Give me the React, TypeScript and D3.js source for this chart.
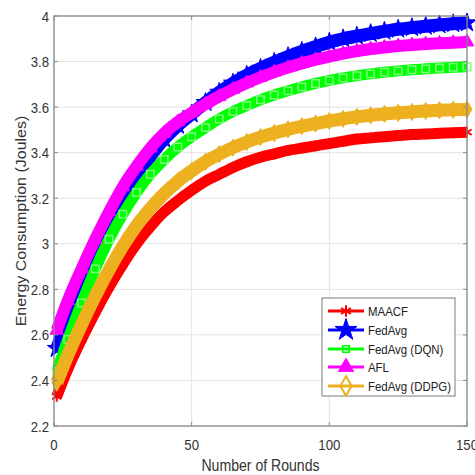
import React from 'react';
import * as d3 from 'd3';

const rounds = [1, 5, 10, 15, 20, 25, 30, 35, 40, 45, 50, 55, 60, 65, 70, 75, 80, 85, 90, 95, 100, 105, 110, 115, 120, 125, 130, 135, 140, 145, 150];

const maacf = [2.33, 2.45, 2.58, 2.70, 2.81, 2.91, 3.00, 3.075, 3.14, 3.19, 3.235, 3.275, 3.305, 3.335, 3.36, 3.38, 3.395, 3.41, 3.42, 3.43, 3.44, 3.45, 3.46, 3.465, 3.47, 3.475, 3.48, 3.482, 3.485, 3.487, 3.49];
const fedavg = [2.54, 2.67, 2.82, 2.96, 3.09, 3.20, 3.30, 3.385, 3.46, 3.52, 3.57, 3.62, 3.665, 3.705, 3.74, 3.77, 3.797, 3.822, 3.845, 3.865, 3.885, 3.90, 3.912, 3.923, 3.933, 3.942, 3.949, 3.955, 3.961, 3.966, 3.97];
const fedavgDqn = [2.44, 2.58, 2.74, 2.89, 3.02, 3.13, 3.225, 3.305, 3.37, 3.425, 3.47, 3.51, 3.548, 3.58, 3.607, 3.632, 3.653, 3.672, 3.689, 3.704, 3.717, 3.728, 3.738, 3.746, 3.753, 3.759, 3.764, 3.768, 3.772, 3.775, 3.777];
const afl = [2.62, 2.75, 2.89, 3.02, 3.14, 3.25, 3.34, 3.42, 3.485, 3.535, 3.575, 3.613, 3.647, 3.678, 3.706, 3.731, 3.754, 3.774, 3.792, 3.808, 3.822, 3.835, 3.846, 3.855, 3.862, 3.868, 3.873, 3.877, 3.88, 3.883, 3.886];
const fedavgDdpg = [2.39, 2.51, 2.645, 2.77, 2.885, 2.99, 3.08, 3.155, 3.22, 3.275, 3.32, 3.36, 3.393, 3.422, 3.447, 3.468, 3.486, 3.502, 3.516, 3.528, 3.539, 3.549, 3.557, 3.564, 3.57, 3.575, 3.579, 3.583, 3.586, 3.588, 3.59];

const seriesNames = ['MAACF', 'FedAvg', 'FedAvg (DQN)', 'AFL', 'FedAvg (DDPG)'];
const seriesValues = [maacf, fedavg, fedavgDqn, afl, fedavgDdpg];
const seriesColors = ['#ff0000', '#0000ff', '#00ff00', '#ff00ff', '#EDB120'];

const xTicks = [0, 50, 100, 150];
const yTicks = [2.2, 2.4, 2.6, 2.8, 3, 3.2, 3.4, 3.6, 3.8, 4];

const markerDefs = [
  { type: d3.symbolAsterisk, size: 80, filled: false, sw: 2, lw: 11, legSize: 90 },
  { type: d3.symbolStar, size: 110, filled: true, sw: 1, lw: 13, legSize: 150 },
  { type: d3.symbolSquare, size: 55, filled: false, sw: 1.5, lw: 11, legSize: 45 },
  { type: d3.symbolTriangle, size: 80, filled: true, sw: 1, lw: 12, legSize: 100 },
  { type: d3.symbolDiamond, size: 85, filled: true, sw: 1, lw: 13, legSize: 110 },
];

const FONT = '"Liberation Sans", Arial, Helvetica, sans-serif';
const SX = 0.88;

export default function App() {
  const W = 475, H = 475;
  const x = d3.scaleLinear().domain([0, 150]).range([54, 467]);
  const y = d3.scaleLinear().domain([2.2, 4]).range([426, 16]);
  const line = d3.line<number>().x((_, i) => x(rounds[i])).y((d) => y(d)).curve(d3.curveMonotoneX);

  const [x0, x1] = x.range();
  const [y0, y1] = y.range();

  const legX = 322, legY = 298, legW = 133, legH = 98;
  const legRowY = [311, 330, 349, 367, 386];

  return (
    <svg width={W} height={H} style={{ position: 'absolute', left: 0, top: 0, background: '#fff' }} fontFamily={FONT}>
      <rect x={0} y={0} width={W} height={H} fill="#fff" />
      {xTicks.map((t) => (
        <line key={'gx' + t} x1={x(t)} x2={x(t)} y1={y1} y2={y0} stroke="#e3e3e3" strokeWidth={1} />
      ))}
      {yTicks.map((t) => (
        <line key={'gy' + t} x1={x0} x2={x1} y1={y(t)} y2={y(t)} stroke="#e3e3e3" strokeWidth={1} />
      ))}
      {seriesValues.map((vals, si) => {
        const m = markerDefs[si];
        const sym = d3.symbol().type(m.type).size(m.size)();
        const c = seriesColors[si];
        return (
          <g key={'s' + si}>
            <path d={line(vals) || ''} fill="none" stroke={c} strokeWidth={m.lw} strokeLinejoin="round" />
            {vals.map((v, i) => (
              <path
                key={i}
                d={sym || ''}
                transform={`translate(${x(rounds[i])},${y(v)})`}
                fill={m.filled ? c : 'none'}
                stroke={m.filled ? c : si === 2 ? '#7dff7d' : c}
                strokeWidth={m.sw}
              />
            ))}
          </g>
        );
      })}
      <rect x={x0} y={y1} width={x1 - x0} height={y0 - y1} fill="none" stroke="#8a8a8a" strokeWidth={1.3} />
      {xTicks.map((t) => (
        <g key={'tx' + t}>
          <line x1={x(t)} x2={x(t)} y1={y0} y2={y0 - 4} stroke="#8a8a8a" />
          <line x1={x(t)} x2={x(t)} y1={y1} y2={y1 + 4} stroke="#8a8a8a" />
          <text transform={`translate(${x(t)},450) scale(${SX},1)`} textAnchor="middle" fontSize={15} fill="#333">
            {t}
          </text>
        </g>
      ))}
      {yTicks.map((t) => (
        <g key={'ty' + t}>
          <line x1={x0} x2={x0 + 4} y1={y(t)} y2={y(t)} stroke="#8a8a8a" />
          <line x1={x1} x2={x1 - 4} y1={y(t)} y2={y(t)} stroke="#8a8a8a" />
          <text transform={`translate(49,${y(t) + 5.5}) scale(${SX},1)`} textAnchor="end" fontSize={15} fill="#333">
            {String(t)}
          </text>
        </g>
      ))}
      <text transform={`translate(${(x0 + x1) / 2},471) scale(${SX},1)`} textAnchor="middle" fontSize={16} fill="#333">
        Number of Rounds
      </text>
      <text transform={`translate(26,${(y0 + y1) / 2}) rotate(-90) scale(1,${SX})`} textAnchor="middle" fontSize={16} fill="#333">
        Energy Consumption (Joules)
      </text>
      <rect x={legX} y={legY} width={legW} height={legH} fill="#fff" stroke="#7a7a7a" strokeWidth={1} />
      {seriesNames.map((name, si) => {
        const m = markerDefs[si];
        const sym = d3.symbol().type(m.type).size(m.legSize)();
        const c = seriesColors[si];
        const ly = legRowY[si];
        return (
          <g key={'l' + si}>
            <line x1={328} x2={364} y1={ly} y2={ly} stroke={c} strokeWidth={3} />
            <path d={sym || ''} transform={`translate(346,${ly})`} fill={m.filled && si !== 4 ? c : 'none'} stroke={c} strokeWidth={si === 4 ? 2 : m.sw} />
            <text transform={`translate(368,${ly + 5}) scale(${SX},1)`} fontSize={13} fill="#222">
              {name}
            </text>
          </g>
        );
      })}
    </svg>
  );
}
